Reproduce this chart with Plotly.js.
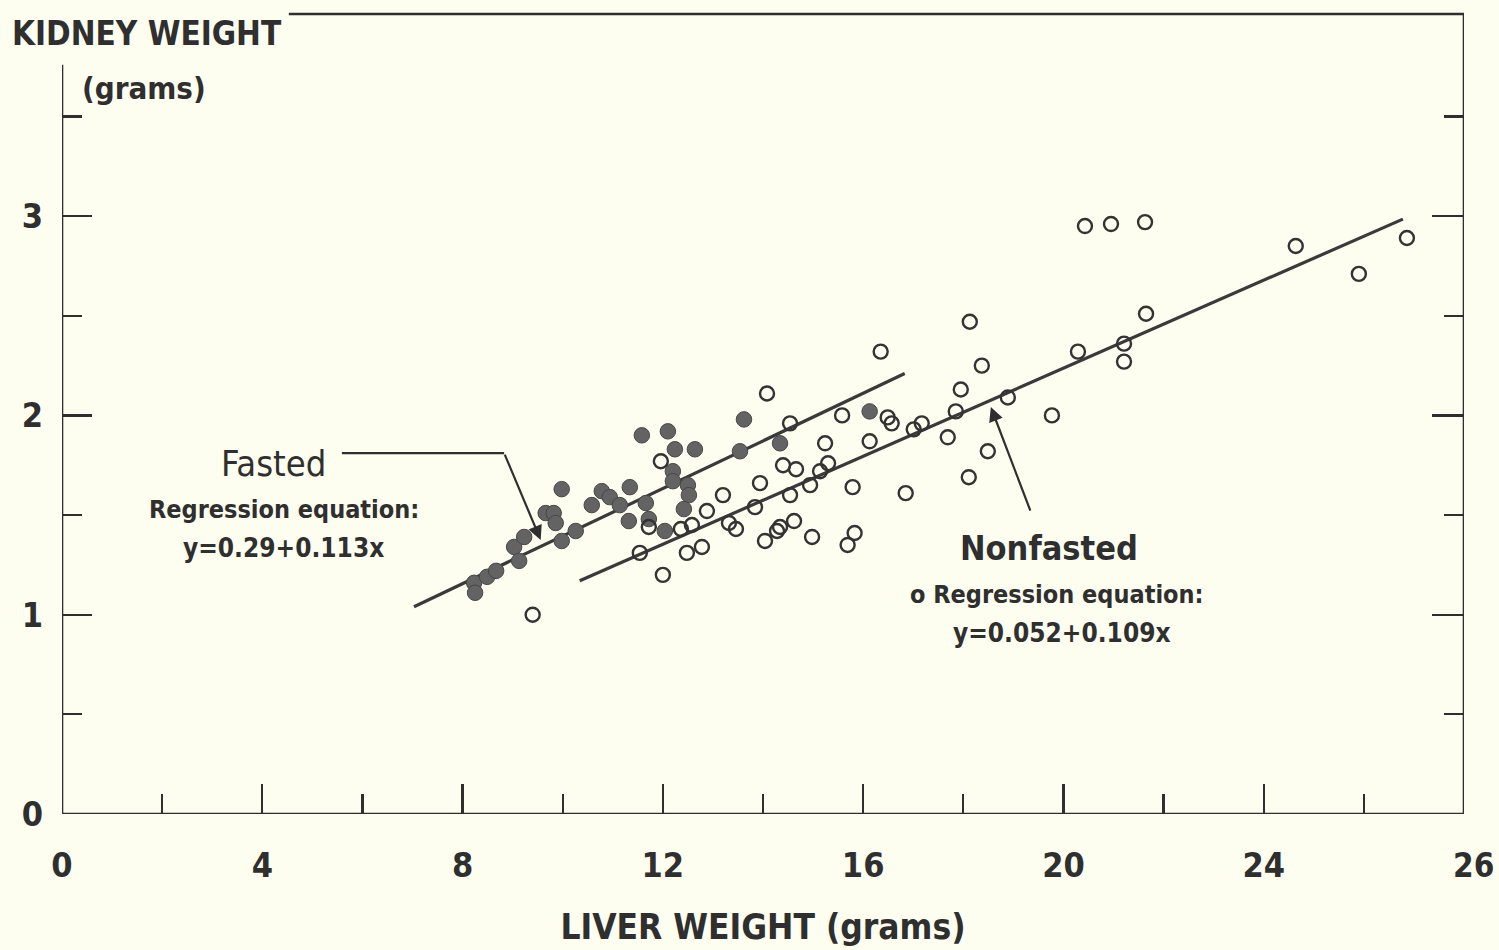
<!DOCTYPE html>
<html>
<head>
<meta charset="utf-8">
<script src="https://cdn.plot.ly/plotly-3.0.1.min.js"></script>
<style>
  html, body { margin: 0; padding: 0; background: #fdfdf0; }
  #chart { width: 1499px; height: 950px; }
</style>
</head>
<body>
<div id="chart"></div>
<script>
// ---- Data ----
// Fasted (filled dots): liver weight (g), kidney weight (g)
const fastedLiver = [8.23, 8.25, 8.49, 8.67, 9.03, 9.13, 9.23, 9.66, 9.82, 9.86,
  9.98, 9.98, 10.26, 10.58, 10.78, 10.94, 11.14, 11.34, 11.32, 11.66,
  11.72, 12.04, 11.58, 12.10, 12.24, 12.64, 12.20, 12.20, 12.50, 12.52,
  12.42, 13.54, 13.62, 14.34, 16.13];
const fastedKidney = [1.16, 1.11, 1.19, 1.22, 1.34, 1.27, 1.39, 1.51, 1.51, 1.46,
  1.63, 1.37, 1.42, 1.55, 1.62, 1.59, 1.55, 1.64, 1.47, 1.56,
  1.48, 1.42, 1.90, 1.92, 1.83, 1.83, 1.72, 1.67, 1.65, 1.60,
  1.53, 1.82, 1.98, 1.86, 2.02];

// Nonfasted (open circles)
const nonfastedLiver = [9.40, 11.54, 12.00, 11.96, 11.72, 12.36, 12.58, 12.48, 12.78, 12.88,
  13.20, 13.32, 13.46, 13.84, 13.94, 14.04, 14.08, 14.28, 14.34, 14.62,
  14.40, 14.66, 14.54, 14.54, 14.94, 14.98, 15.14, 15.30, 15.24, 15.58,
  15.69, 15.83, 15.79, 16.13, 16.35, 16.49, 16.57, 16.85, 17.01, 17.17,
  17.69, 17.85, 17.95, 18.11, 18.13, 18.37, 18.49, 18.89, 19.77, 20.29,
  20.43, 20.95, 21.21, 21.21, 21.63, 21.65, 24.64, 25.90, 26.86];
const nonfastedKidney = [1.00, 1.31, 1.20, 1.77, 1.44, 1.43, 1.45, 1.31, 1.34, 1.52,
  1.60, 1.46, 1.43, 1.54, 1.66, 1.37, 2.11, 1.42, 1.44, 1.47,
  1.75, 1.73, 1.60, 1.96, 1.65, 1.39, 1.72, 1.76, 1.86, 2.00,
  1.35, 1.41, 1.64, 1.87, 2.32, 1.99, 1.96, 1.61, 1.93, 1.96,
  1.89, 2.02, 2.13, 1.69, 2.47, 2.25, 1.82, 2.09, 2.00, 2.32,
  2.95, 2.96, 2.36, 2.27, 2.97, 2.51, 2.85, 2.71, 2.89];

// Regression lines as drawn (end points)
const fastedLineX = [7.03, 16.83];
const fastedLineY = [1.04, 2.21];
const nonfastedLineX = [10.34, 26.78];
const nonfastedLineY = [1.17, 2.985];

// Tick labels
const xTickVals = [0, 4, 8, 12, 16, 20, 24];
const xTickText = ['0', '4', '8', '12', '16', '20', '24'];
const xMinorVals = [2, 6, 10, 14, 18, 22, 26];
const xEndLabel = '26';
const yTickVals = [0, 1, 2, 3];
const yTickText = ['0', '1', '2', '3'];
const yMinorVals = [0.5, 1.5, 2.5, 3.5];

// Texts
const yTitle = 'KIDNEY WEIGHT';
const yUnit = '(grams)';
const xTitle = 'LIVER WEIGHT (grams)';
const fastedLabel = 'Fasted';
const nonfastedLabel = 'Nonfasted';
const regLabel = 'Regression equation:';
const nonRegLabel = 'o Regression equation:';
const fastedEq = 'y=0.29+0.113x';
const nonfastedEq = 'y=0.052+0.109x';

// ---- Styling ----
const INK = '#2f2f2f';
const BG = '#fdfdf0';
const FONT = '"DejaVu Sans Condensed", "Liberation Sans Narrow", sans-serif';

const traces = [
  { x: fastedLineX, y: fastedLineY, mode: 'lines', line: { color: '#3a3a3a', width: 3.2 },
    hoverinfo: 'skip', showlegend: false },
  { x: nonfastedLineX, y: nonfastedLineY, mode: 'lines', line: { color: '#3a3a3a', width: 3.2 },
    hoverinfo: 'skip', showlegend: false },
  { x: fastedLiver, y: fastedKidney, mode: 'markers', name: 'Fasted',
    marker: { symbol: 'circle', size: 15.5, color: '#636363', line: { color: '#474747', width: 1 } },
    showlegend: false },
  { x: nonfastedLiver, y: nonfastedKidney, mode: 'markers', name: 'Nonfasted',
    marker: { symbol: 'circle-open', size: 14, color: '#333333', line: { color: '#333333', width: 2.4 } },
    showlegend: false },
  { x: [], y: [], yaxis: 'y2', mode: 'markers', showlegend: false, hoverinfo: 'skip' }
];

const YTOP = 800 / 199.3;

const layout = {
  width: 1499, height: 950,
  margin: { l: 62, r: 35, t: 14, b: 136 },
  paper_bgcolor: BG, plot_bgcolor: BG,
  font: { family: FONT, color: INK },
  xaxis: {
    range: [0, 28], showgrid: false, zeroline: false, showline: false,
    tickmode: 'array', tickvals: xTickVals, ticktext: xTickText,
    ticks: 'inside', ticklen: 30, tickwidth: 2.2, tickcolor: INK,
    minor: { tickmode: 'array', tickvals: xMinorVals, ticks: 'inside', ticklen: 20, tickwidth: 2.2, tickcolor: INK },
    tickfont: { family: FONT, size: 34, color: INK, weight: 'bold' },
    ticklabelstandoff: 28,
    title: { text: xTitle, font: { family: FONT, size: 35, color: INK, weight: 'bold' }, standoff: 30 },
    fixedrange: true
  },
  yaxis: {
    range: [0, YTOP], showgrid: false, zeroline: false, showline: false,
    tickmode: 'array', tickvals: yTickVals, ticktext: yTickText,
    ticks: 'inside', ticklen: 30, tickwidth: 2.2, tickcolor: INK,
    minor: { tickmode: 'array', tickvals: yMinorVals, ticks: 'inside', ticklen: 20, tickwidth: 2.2, tickcolor: INK },
    tickfont: { family: FONT, size: 34, color: INK, weight: 'bold' },
    ticklabelstandoff: 18,
    fixedrange: true
  },
  yaxis2: {
    range: [0, YTOP], overlaying: 'y', side: 'right', anchor: 'x',
    showgrid: false, zeroline: false, showline: false, showticklabels: false,
    tickmode: 'array', tickvals: [1, 2, 3],
    ticks: 'inside', ticklen: 32, tickwidth: 2.2, tickcolor: INK,
    minor: { tickmode: 'array', tickvals: yMinorVals, ticks: 'inside', ticklen: 20, tickwidth: 2.2, tickcolor: INK },
    fixedrange: true
  },
  shapes: [
    // frame: bottom, right, top (partial), left (partial)
    { type: 'line', xref: 'x', yref: 'y', x0: 0, x1: 28, y0: 0, y1: 0, line: { color: INK, width: 2.6 } },
    { type: 'line', xref: 'x', yref: 'paper', x0: 28, x1: 28, y0: 0, y1: 1, line: { color: INK, width: 2.6 } },
    { type: 'line', xref: 'x', yref: 'paper', x0: 4.53, x1: 28, y0: 1, y1: 1, line: { color: INK, width: 2.6 } },
    { type: 'line', xref: 'x', yref: 'y', x0: 0, x1: 0, y0: 0, y1: 3.76, line: { color: INK, width: 2.6 } },
    // Fasted pointer (horizontal leg)
    { type: 'line', xref: 'x', yref: 'y', x0: 5.59, x1: 8.83, y0: 1.811, y1: 1.811, line: { color: INK, width: 2.2 } }
  ],
  annotations: [
    { xref: 'paper', yref: 'paper', x: -0.0371, y: 0.976, xanchor: 'left', yanchor: 'middle',
      text: yTitle, showarrow: false, font: { family: FONT, size: 33, color: INK, weight: 'bold' } },
    { xref: 'paper', yref: 'paper', x: 0.0128, y: 0.9075, xanchor: 'left', yanchor: 'middle',
      text: yUnit, showarrow: false, font: { family: FONT, size: 31, color: INK, weight: 'bold' } },
    { xref: 'paper', yref: 'paper', x: 1.0065, y: -0.064, xanchor: 'center', yanchor: 'middle',
      text: xEndLabel, showarrow: false, font: { family: FONT, size: 33, color: INK, weight: 'bold' } },
    // Fasted labels
    { xref: 'x', yref: 'y', x: 4.23, y: 1.761, text: fastedLabel, showarrow: false,
      font: { family: FONT, size: 36, color: INK } },
    { xref: 'x', yref: 'y', x: 4.43, y: 1.530, text: regLabel, showarrow: false,
      font: { family: FONT, size: 25, color: INK, weight: 'bold' } },
    { xref: 'x', yref: 'y', x: 4.43, y: 1.335, text: fastedEq, showarrow: false,
      font: { family: FONT, size: 26, color: INK, weight: 'bold' } },
    // Fasted arrow (diagonal leg)
    { xref: 'x', yref: 'y', axref: 'x', ayref: 'y', x: 9.56, y: 1.375, ax: 8.83, ay: 1.811,
      text: '', showarrow: true, arrowhead: 2, arrowsize: 1.3, arrowwidth: 2.2, arrowcolor: INK },
    // Nonfasted labels
    { xref: 'x', yref: 'y', x: 19.71, y: 1.335, text: nonfastedLabel, showarrow: false,
      font: { family: FONT, size: 34, color: INK, weight: 'bold' } },
    { xref: 'x', yref: 'y', x: 19.87, y: 1.099, text: nonRegLabel, showarrow: false,
      font: { family: FONT, size: 25, color: INK, weight: 'bold' } },
    { xref: 'x', yref: 'y', x: 19.97, y: 0.908, text: nonfastedEq, showarrow: false,
      font: { family: FONT, size: 26, color: INK, weight: 'bold' } },
    // Nonfasted arrow
    { xref: 'x', yref: 'y', axref: 'x', ayref: 'y', x: 18.55, y: 2.042, ax: 19.35, ay: 1.515,
      text: '', showarrow: true, arrowhead: 2, arrowsize: 1.3, arrowwidth: 2.2, arrowcolor: INK }
  ]
};

Plotly.newPlot('chart', traces, layout, { displayModeBar: false, staticPlot: true });
</script>
</body>
</html>
